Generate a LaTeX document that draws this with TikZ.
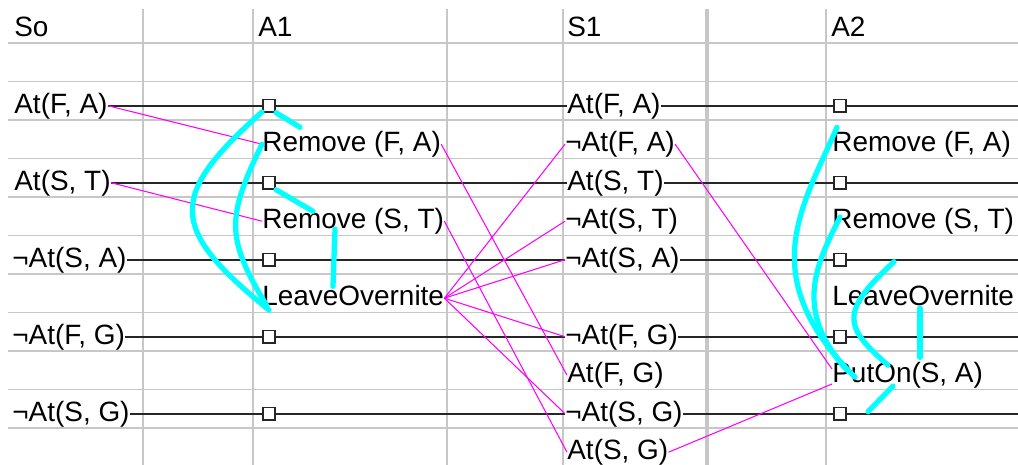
\documentclass[tikz,border=0pt]{standalone}
\usepackage{fontspec}
\setmainfont{Liberation Sans}
\usetikzlibrary{calc}

\definecolor{effectpink}{RGB}{255,0,255}
\definecolor{mutexcyan}{RGB}{0,255,255}

\begin{document}
\begin{tikzpicture}[x=0.02cm, y=-0.02cm,
  cell/.style={draw=black!22, line width=1.1pt},
  lit/.style={anchor=west, inner sep=0pt, text height=11.9pt, text depth=3.5pt,
    font=\fontsize{15.9}{18}\selectfont},
  noop/.style={draw=black!85, fill=white, line width=0.9pt, minimum size=0.25cm, inner sep=0pt},
  persist/.style={draw=black!85, line width=1.1pt},
  effect/.style={draw=effectpink, line width=0.6pt},
  mutex/.style={draw=mutexcyan, line width=3pt, line cap=round}]

\useasboundingbox (0,0) rectangle (1018,465);

% sheet grid
\foreach \x in {143,253,447,563,826}
  \draw[cell] (\x,9) -- (\x,465);
\draw[cell, line width=2pt] (707,9) -- (707,465);
\foreach \k in {0,...,10}
  \draw[cell] (8,{43+38.5*\k}) -- (1018,{43+38.5*\k});

\node[lit] (h0) at (14,28.7) {So};
\node[lit] (h1) at (258,28.7) {A1};
\node[lit] (h2) at (567,28.7) {S1};
\node[lit] (h3) at (831,28.7) {A2};

% level 0
\node[lit] (s0fa) at (14,105.7) {At(F, A)};
\node[lit] (s0st) at (14,182.7) {At(S, T)};
\node[lit] (s0nsa) at (12,259.7) {¬At(S, A)};
\node[lit] (s0nfg) at (12,336.7) {¬At(F, G)};
\node[lit] (s0nsg) at (12,413.7) {¬At(S, G)};

% actions 1
\node[noop] (m1fa) at (269,105.7) {};
\node[noop] (m1st) at (269,182.7) {};
\node[noop] (m1nsa) at (269,259.7) {};
\node[noop] (m1nfg) at (269,336.7) {};
\node[noop] (m1nsg) at (269,413.7) {};
\node[lit] (rfa1) at (262,144.2) {Remove (F, A)};
\node[lit] (rst1) at (262,221.2) {Remove (S, T)};
\node[lit] (lo1) at (262,298.2) {LeaveOvernite};

% level 1
\node[lit] (s1fa) at (567,105.7) {At(F, A)};
\node[lit] (s1nfa) at (565,144.2) {¬At(F, A)};
\node[lit] (s1st) at (567,182.7) {At(S, T)};
\node[lit] (s1nst) at (565,221.2) {¬At(S, T)};
\node[lit] (s1nsa) at (565,259.7) {¬At(S, A)};
\node[lit] (s1nfg) at (565,336.7) {¬At(F, G)};
\node[lit] (s1fg) at (567,375.2) {At(F, G)};
\node[lit] (s1nsg) at (565,413.7) {¬At(S, G)};
\node[lit] (s1sg) at (567,452.2) {At(S, G)};

% actions 2
\node[noop] (m2fa) at (840,105.7) {};
\node[noop] (m2st) at (840,182.7) {};
\node[noop] (m2nsa) at (840,259.7) {};
\node[noop] (m2nfg) at (840,336.7) {};
\node[noop] (m2nsg) at (840,413.7) {};
\node[lit] (rfa2) at (832,144.2) {Remove (F, A)};
\node[lit] (rst2) at (832,221.2) {Remove (S, T)};
\node[lit] (lo2) at (832,298.2) {LeaveOvernite};
\node[lit] (po2) at (832,375.2) {PutOn(S, A)};

\coordinate (efa) at (1018,105.7);
\coordinate (est) at (1018,182.7);
\coordinate (ensa) at (1018,259.7);
\coordinate (enfg) at (1018,336.7);
\coordinate (ensg) at (1018,413.7);

\foreach \a/\b in {s0fa/m1fa, m1fa/s1fa, s1fa/m2fa, m2fa/efa,
                   s0st/m1st, m1st/s1st, s1st/m2st, m2st/est,
                   s0nsa/m1nsa, m1nsa/s1nsa, s1nsa/m2nsa, m2nsa/ensa,
                   s0nfg/m1nfg, m1nfg/s1nfg, s1nfg/m2nfg, m2nfg/enfg,
                   s0nsg/m1nsg, m1nsg/s1nsg, s1nsg/m2nsg, m2nsg/ensg}
  \draw[persist] (\a) -- (\b);

\draw[effect] (s0fa.east) -- (rfa1.west);
\draw[effect] (s0st.east) -- (rst1.west);
\draw[effect] (rfa1.east) -- (s1fg.west);
\draw[effect] (rst1.east) -- (s1sg.west);
\foreach \t in {s1nfa, s1nst, s1nsa, s1nfg, s1nsg}
  \draw[effect] (lo1.east) -- (\t.west);
\draw[effect] (s1nfa.east) -- ([yshift=3.5pt]po2.west);
\draw[effect] (s1sg.east) -- ([yshift=-5pt]po2.west);

% mutex links
\draw[mutex] (m1fa) .. controls (168,196) and (168,228) .. ($(lo1.south west)+(7,-2)$);
\draw[mutex] (rfa1.west) .. controls (227,217) and (225,237) .. ($(lo1.south west)+(5,-6)$);
\draw[mutex] (m1fa.south east) -- ($(rfa1.north west)+(38,-3)$);
\draw[mutex] (m1st.south east) -- ($(rst1.north west)+(51,4)$);
\draw[mutex] ($(rst1.south west)+(73,-6)$) -- ($(lo1.north west)+(71,2)$);

\draw[mutex] ($(rfa2.north west)+(5,-3)$) .. controls (802,208) and (754,276) .. ($(po2.west)+(23,2)$);
\draw[mutex] ($(rst2.west)+(8,-4)$) .. controls (816,265) and (793,310) .. ($(po2.west)+(15,-5)$);
\draw[mutex] ($(m2nsa.east)+(47,2)$) .. controls (840,312) and (843,326) .. ($(po2.west)+(56,-10)$);
\draw[mutex] ($(lo2.south west)+(88,-4)$) -- ($(po2.north west)+(88,-4)$);
\draw[mutex] ($(po2.south west)+(61,-3)$) -- ($(m2nsg.east)+(21,-2)$);

\end{tikzpicture}
\end{document}
